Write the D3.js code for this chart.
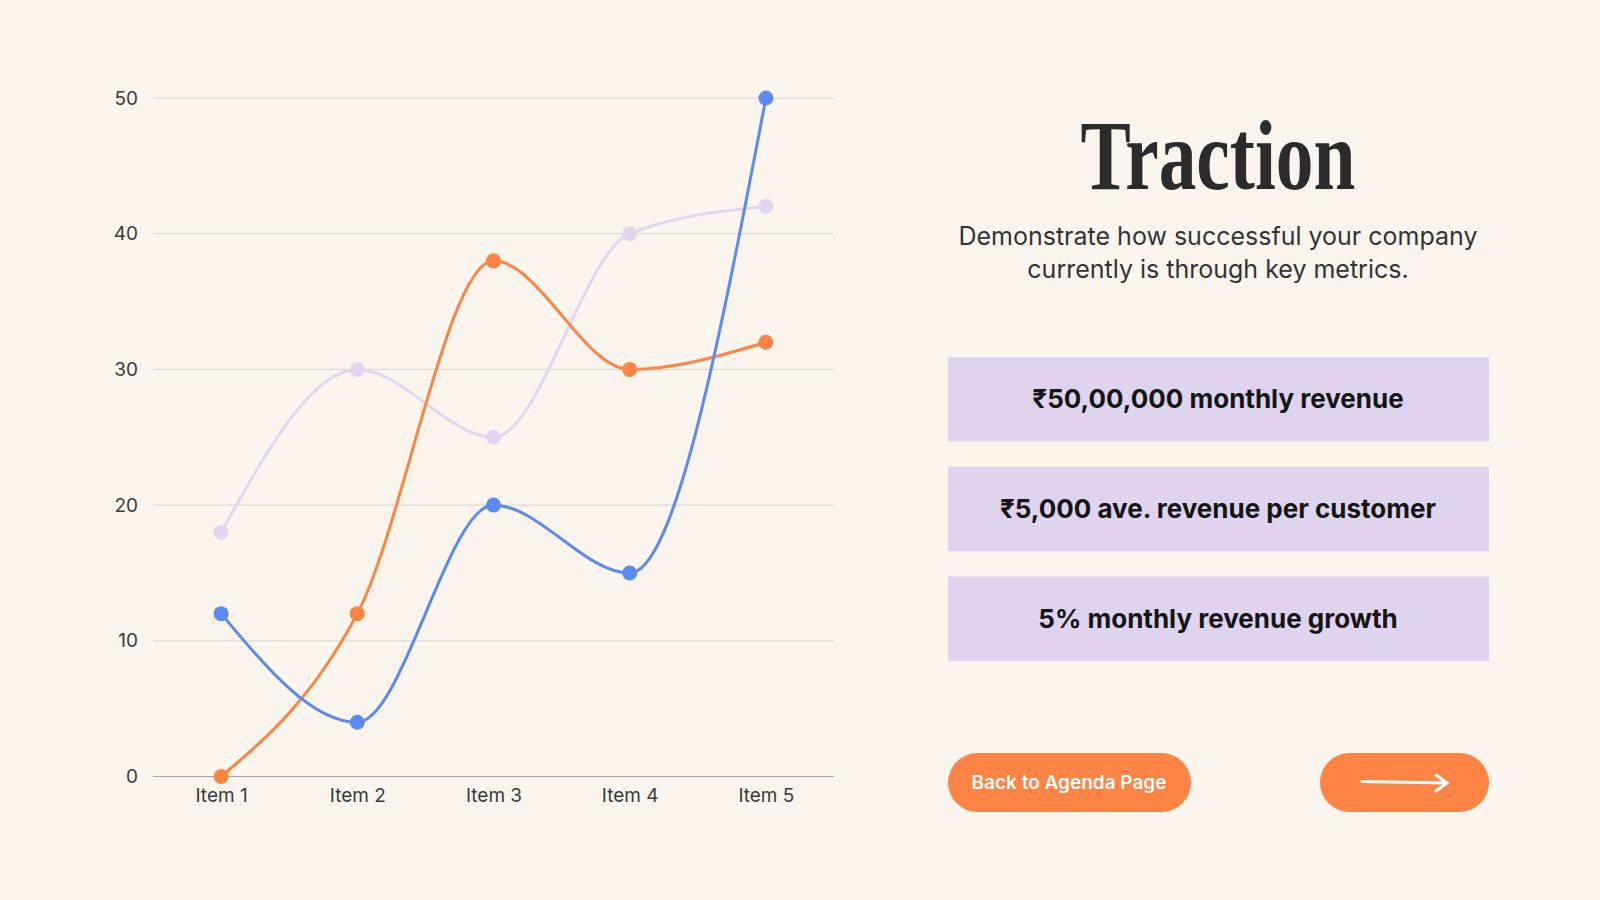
<!DOCTYPE html>
<html><head><meta charset="utf-8">
<script src="https://cdn.jsdelivr.net/npm/d3@7"></script>
<style>
body{margin:0;background:#fcf5ee;}
text{font-family:Inter,"Noto Sans",sans-serif;}
</style></head>
<body><svg id="c" width="1600" height="900"></svg>
<script>
// data
let items = ["Item 1", "Item 2", "Item 3", "Item 4", "Item 5"];
let blueVals = [12, 4, 20, 15, 50];
let orangeVals = [0, 12, 38, 30, 32];
let lilacVals = [18, 30, 25, 40, 42];
let yTicks = [0, 10, 20, 30, 40, 50];
let metrics = ["₹50,00,000 monthly revenue", "₹5,000 ave. revenue per customer", "5% monthly revenue growth"];

let svg = d3.select("#c");
svg.append("rect").attr("width", 1600).attr("height", 900).attr("fill", "#fcf5ee");

let x = d3.scalePoint().domain(items).range([153, 834]).padding(0.5);
let y = d3.scaleLinear().domain([0, 50]).range([776.5, 98]);

// gridlines
svg.append("g").selectAll("line").data(yTicks).join("line")
    .attr("x1", 153).attr("x2", 834)
    .attr("y1", d => y(d)).attr("y2", d => y(d))
    .attr("stroke", d => d === 0 ? "#a9a49c" : "#d9d3cc").attr("stroke-width", 1);

// y axis labels
let yAxis = svg.append("g").attr("transform", "translate(138,0)")
    .call(d3.axisLeft(y).tickValues(yTicks).tickSize(0).tickPadding(0));
yAxis.select(".domain").remove();
yAxis.selectAll("text").attr("font-size", 19).attr("fill", "#3a3a3a").style("font-family", "Inter,sans-serif");

// x axis labels
let xAxis = svg.append("g").attr("transform", "translate(0,788)")
    .call(d3.axisBottom(x).tickSize(0).tickPadding(0));
xAxis.select(".domain").remove();
xAxis.selectAll("text").attr("font-size", 19).attr("fill", "#3a3a3a").style("font-family", "Inter,sans-serif");

let line = d3.line()
    .x((d, i) => x(items[i]))
    .y(d => y(d))
    .curve(d3.curveMonotoneX);

let series = [
    { vals: lilacVals, color: "#e2d5ef" },
    { vals: orangeVals, color: "#fd8444" },
    { vals: blueVals, color: "#5b8bf2" }
];

series.forEach(s => {
    svg.append("path").attr("d", line(s.vals))
        .attr("fill", "none").attr("stroke", s.color).attr("stroke-width", 3);
    svg.append("g").selectAll("circle").data(s.vals).join("circle")
        .attr("cx", (d, i) => x(items[i])).attr("cy", d => y(d))
        .attr("r", 7.5).attr("fill", s.color);
});

// right panel
svg.append("text").attr("x", 1218).attr("y", 189).attr("text-anchor", "middle")
    .attr("font-size", 100).attr("font-weight", "bold").attr("fill", "#2b2b2b")
    .attr("textLength", 275).attr("lengthAdjust", "spacingAndGlyphs")
    .style("font-family", "'Liberation Serif','DejaVu Serif',serif")
    .text("Traction");

svg.append("text").attr("x", 1218).attr("y", 245).attr("text-anchor", "middle")
    .attr("font-size", 25).attr("fill", "#333").text("Demonstrate how successful your company");
svg.append("text").attr("x", 1218).attr("y", 278).attr("text-anchor", "middle")
    .attr("font-size", 25).attr("fill", "#333").text("currently is through key metrics.");

let boxY = d3.scaleBand().domain(metrics).range([357, 661]).paddingInner(0.23);
metrics.forEach(m => {
    svg.append("rect").attr("x", 948).attr("y", boxY(m)).attr("width", 541)
        .attr("height", boxY.bandwidth()).attr("fill", "#e0d3ee");
    svg.append("text").attr("x", 1218).attr("y", boxY(m) + boxY.bandwidth() / 2 + 9)
        .attr("text-anchor", "middle").attr("font-size", 26).attr("font-weight", "bold")
        .attr("fill", "#151515").text(m);
});

// buttons
svg.append("rect").attr("x", 948).attr("y", 753).attr("width", 243).attr("height", 59)
    .attr("rx", 29.5).attr("fill", "#fd8444");
svg.append("text").attr("x", 1069).attr("y", 789).attr("text-anchor", "middle")
    .attr("font-size", 19).attr("font-weight", "600").attr("fill", "#fff").text("Back to Agenda Page");

svg.append("rect").attr("x", 1320).attr("y", 753).attr("width", 169).attr("height", 59)
    .attr("rx", 29.5).attr("fill", "#fd8444");
svg.append("path").attr("d", "M1362,781.5 L1447,783 M1436,775 L1447,783 L1436,791")
    .attr("fill", "none").attr("stroke", "#fff").attr("stroke-width", 3).attr("stroke-linecap", "round");
</script></body></html>
